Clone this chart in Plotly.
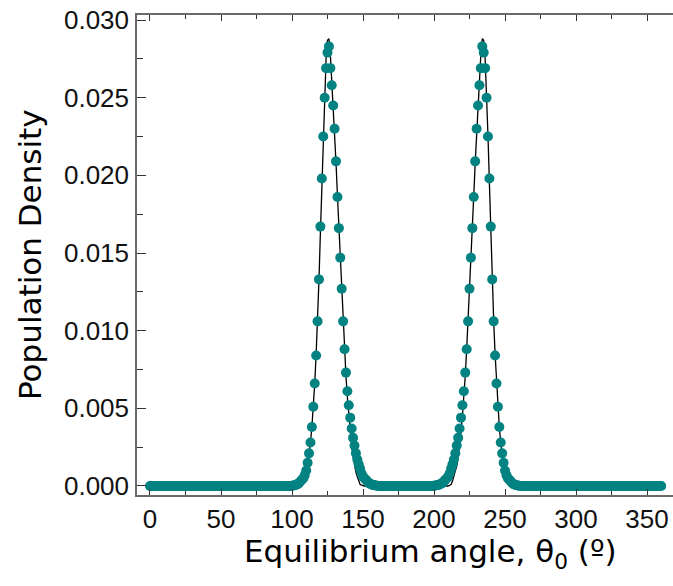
import plotly.graph_objects as go

# Equilibrium angle grid (degrees)
theta = list(range(0, 361))

# Population density (1 degree steps, 0..360)
density = [
    0, 0, 0, 0, 0, 0, 0, 0, 0, 0, 0, 0, 0, 0, 0, 0, 0, 0, 0, 0,
    0, 0, 0, 0, 0, 0, 0, 0, 0, 0, 0, 0, 0, 0, 0, 0, 0, 0, 0, 0,
    0, 0, 0, 0, 0, 0, 0, 0, 0, 0, 0, 0, 0, 0, 0, 0, 0, 0, 0, 0,
    0, 0, 0, 0, 0, 0, 0, 0, 0, 0, 0, 0, 0, 0, 0, 0, 0, 0, 0, 0,
    0, 0, 0, 0, 0, 0, 0, 0, 0, 0, 0, 0, 0, 0, 0, 0, 0, 0, 0, 0,
    0.00002, 0.00003, 0.00005, 0.00008, 0.00012, 0.0002, 0.0003, 0.0004, 0.0005, 0.0007,
    0.0010, 0.0015, 0.0021, 0.0028, 0.0038, 0.0051, 0.0066, 0.0084, 0.0106, 0.0133,
    0.0167, 0.0198, 0.0225, 0.0250, 0.0269, 0.0279, 0.0283, 0.0269, 0.0258, 0.0245,
    0.0230, 0.0209, 0.0186, 0.0166, 0.0147, 0.0127, 0.0106, 0.0088, 0.0073, 0.0061,
    0.0052, 0.0044, 0.0037, 0.0031, 0.0026, 0.0021, 0.0017, 0.0014, 0.0011, 0.0008,
    0.0006, 0.0005, 0.0004, 0.0003, 0.0002, 0.00015, 0.0001, 0.00007, 0.00005, 0.00003,
    0.00002, 0, 0, 0, 0, 0, 0, 0, 0, 0,
    0, 0, 0, 0, 0, 0, 0, 0, 0, 0, 0, 0, 0, 0, 0, 0, 0, 0, 0, 0,
    0, 0, 0, 0, 0, 0, 0, 0, 0, 0,
    0.00002, 0.00003, 0.00005, 0.00007, 0.0001, 0.00015, 0.0002, 0.0003, 0.0004, 0.0005,
    0.0006, 0.0008, 0.0011, 0.0014, 0.0017, 0.0021, 0.0026, 0.0031, 0.0037, 0.0044,
    0.0052, 0.0061, 0.0073, 0.0088, 0.0106, 0.0127, 0.0147, 0.0166, 0.0186, 0.0209,
    0.0230, 0.0245, 0.0258, 0.0269, 0.0283, 0.0279, 0.0269, 0.0250, 0.0225, 0.0198,
    0.0167, 0.0133, 0.0106, 0.0084, 0.0066, 0.0051, 0.0038, 0.0028, 0.0021, 0.0015,
    0.0010, 0.0007, 0.0005, 0.0004, 0.0003, 0.0002, 0.00012, 0.00008, 0.00005, 0.00003,
    0.00002, 0, 0, 0, 0, 0, 0, 0, 0, 0,
    0, 0, 0, 0, 0, 0, 0, 0, 0, 0, 0, 0, 0, 0, 0, 0, 0, 0, 0, 0,
    0, 0, 0, 0, 0, 0, 0, 0, 0, 0, 0, 0, 0, 0, 0, 0, 0, 0, 0, 0,
    0, 0, 0, 0, 0, 0, 0, 0, 0, 0, 0, 0, 0, 0, 0, 0, 0, 0, 0, 0,
    0, 0, 0, 0, 0, 0, 0, 0, 0, 0, 0, 0, 0, 0, 0, 0, 0, 0, 0, 0,
    0, 0, 0, 0, 0, 0, 0, 0, 0, 0, 0,
]

# Fitted curve (black line), same grid
fit = [
    0, 0, 0, 0, 0, 0, 0, 0, 0, 0, 0, 0, 0, 0, 0, 0, 0, 0, 0, 0,
    0, 0, 0, 0, 0, 0, 0, 0, 0, 0, 0, 0, 0, 0, 0, 0, 0, 0, 0, 0,
    0, 0, 0, 0, 0, 0, 0, 0, 0, 0, 0, 0, 0, 0, 0, 0, 0, 0, 0, 0,
    0, 0, 0, 0, 0, 0, 0, 0, 0, 0, 0, 0, 0, 0, 0, 0, 0, 0, 0, 0,
    0, 0, 0, 0, 0, 0, 0, 0, 0, 0, 0, 0, 0, 0, 0, 0, 0, 0, 0, 0,
    0, 0, 0, 0.00003, 0.00006, 0.0001, 0.0002, 0.0003, 0.0005, 0.0007,
    0.0010, 0.0014, 0.0020, 0.0028, 0.0038, 0.0051, 0.0066, 0.0085, 0.0107, 0.0133,
    0.0163, 0.0195, 0.0226, 0.0254, 0.0275, 0.0287, 0.0288, 0.0278, 0.0262, 0.0244,
    0.0227, 0.0208, 0.0187, 0.0166, 0.0146, 0.0126, 0.0106, 0.0088, 0.0071, 0.0057,
    0.0045, 0.0035, 0.0026, 0.0019, 0.0013, 0.0009, 0.0006, 0.0003, 0.0001, 0.00005,
    0, 0, 0, 0, 0, 0, 0, 0, 0, 0, 0, 0, 0, 0, 0, 0, 0, 0, 0, 0,
    0, 0, 0, 0, 0, 0, 0, 0, 0, 0, 0, 0, 0, 0, 0, 0, 0, 0, 0, 0,
    0, 0, 0, 0, 0, 0, 0, 0, 0, 0, 0, 0, 0, 0, 0, 0, 0, 0, 0, 0,
    0,
    0.00005, 0.0001, 0.0003, 0.0006, 0.0009, 0.0013, 0.0019, 0.0026, 0.0035,
    0.0045, 0.0057, 0.0071, 0.0088, 0.0106, 0.0126, 0.0146, 0.0166, 0.0187, 0.0208,
    0.0227, 0.0244, 0.0262, 0.0278, 0.0288, 0.0287, 0.0275, 0.0254, 0.0226, 0.0195,
    0.0163, 0.0133, 0.0107, 0.0085, 0.0066, 0.0051, 0.0038, 0.0028, 0.0020, 0.0014,
    0.0010, 0.0007, 0.0005, 0.0003, 0.0002, 0.0001, 0.00006, 0.00003,
    0, 0, 0, 0, 0, 0, 0, 0, 0, 0, 0, 0, 0, 0, 0, 0, 0, 0, 0, 0,
    0, 0, 0, 0, 0, 0, 0, 0, 0, 0, 0, 0, 0, 0, 0, 0, 0, 0, 0, 0,
    0, 0, 0, 0, 0, 0, 0, 0, 0, 0, 0, 0, 0, 0, 0, 0, 0, 0, 0, 0,
    0, 0, 0, 0, 0, 0, 0, 0, 0, 0, 0, 0, 0, 0, 0, 0, 0, 0, 0, 0,
    0, 0, 0, 0, 0, 0, 0, 0, 0, 0, 0, 0, 0, 0, 0, 0, 0, 0, 0, 0,
    0, 0, 0,
]

x_ticks = [0, 50, 100, 150, 200, 250, 300, 350]
y_ticks = [0.000, 0.005, 0.010, 0.015, 0.020, 0.025, 0.030]

TEAL = "#038282"
AXIS = "#6a6a6a"
TICK = "#333333"

fig = go.Figure()
fig.add_trace(go.Scatter(
    x=theta, y=fit, mode="lines",
    line=dict(color="black", width=1.3),
    showlegend=False, hoverinfo="skip",
))
fig.add_trace(go.Scatter(
    x=theta, y=density, mode="markers",
    marker=dict(color=TEAL, size=10, line=dict(width=0)),
    showlegend=False,
))

fig.update_layout(
    width=673, height=586,
    margin=dict(l=137, r=0, t=15, b=91),
    plot_bgcolor="white", paper_bgcolor="white",
    font=dict(family="Liberation Sans, Arial, sans-serif", color="#111111"),
    xaxis=dict(
        range=[-9.15, 368.3],
        tickvals=x_ticks, ticktext=[str(v) for v in x_ticks],
        showgrid=False, zeroline=False,
        showline=True, linecolor=AXIS, linewidth=1.5, mirror="ticks",
        ticks="inside", ticklen=6, tickwidth=1.2, tickcolor=TICK,
        minor=dict(ticks="inside", ticklen=4, tickwidth=1, tickcolor=TICK, dtick=25, tick0=0),
        tickfont=dict(size=26, family="Liberation Sans, Arial, sans-serif"),
        ticklabelstandoff=0,
    ),
    yaxis=dict(
        range=[-0.00058, 0.030322],
        tickvals=y_ticks, ticktext=["%.3f" % v for v in y_ticks],
        showgrid=False, zeroline=False,
        showline=True, linecolor=AXIS, linewidth=1.5, mirror=False,
        ticks="inside", ticklen=9, tickwidth=1.2, tickcolor=TICK,
        minor=dict(ticks="inside", ticklen=6, tickwidth=1, tickcolor=TICK, dtick=0.0025, tick0=0),
        tickfont=dict(size=26, family="Liberation Sans, Arial, sans-serif"),
        ticklabelstandoff=1,
    ),
    annotations=[
        dict(text="Population Density", xref="paper", yref="paper",
             x=(30 - 137) / 536, y=0.5, textangle=-90,
             xanchor="center", yanchor="middle", showarrow=False,
             font=dict(size=31, family="DejaVu Sans, sans-serif", color="black")),
        dict(text="Equilibrium angle, θ<sub>0</sub> (º)", xref="paper", yref="paper",
             x=(430 - 137) / 536, y=(495 - 553) / 480,
             xanchor="center", yanchor="middle", showarrow=False,
             font=dict(size=31, family="DejaVu Sans, sans-serif", color="black")),
    ],
)

fig.write_html("out.html")
